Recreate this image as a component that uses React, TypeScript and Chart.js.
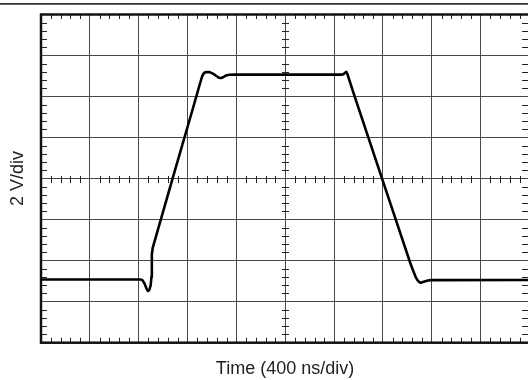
import React, { useEffect, useRef } from "react";
import { Chart, registerables } from "chart.js";

Chart.register(...registerables);

// Trace, in screen divisions (x: 0..10 divisions of 400 ns, y: -4..4 divisions of 2 V)
const timeDiv = [
  0, 2.049, 2.08, 2.12, 2.16, 2.19, 2.22, 2.245, 2.26, 2.266, 2.272, 2.287,
  2.693, 3.1, 3.258, 3.3, 3.34, 3.39, 3.45, 3.52, 3.59, 3.64, 3.68, 3.73, 3.79, 3.85, 3.975,
  6.148, 6.19, 6.225, 6.25, 6.272, 6.4, 6.982, 7.561, 7.62, 7.67, 7.71, 7.75, 7.79, 7.85,
  7.92, 7.98, 10,
];
const voltsDiv = [
  -2.46, -2.46, -2.48, -2.56, -2.68, -2.74, -2.71, -2.6, -2.4, -2.1, -1.85, -1.69,
  0, 1.672, 2.33, 2.5, 2.58, 2.6, 2.595, 2.56, 2.5, 2.46, 2.45, 2.47, 2.515, 2.53, 2.535,
  2.535, 2.545, 2.58, 2.6, 2.55, 2.079, 0, -2.064, -2.25, -2.4, -2.48, -2.53, -2.535, -2.51,
  -2.485, -2.475, -2.47,
];
const xDivisions = [0, 10];
const yDivisions = [-4, 4];
const minorPerDiv = 5;
const xTitle = "Time (400 ns/div)";
const yTitle = "2 V/div";

const scopePlugin = {
  id: "scope",
  beforeDatasetsDraw(chart: any) {
    const { ctx, chartArea: a, scales } = chart;
    const xs = scales.x;
    const ys = scales.y;
    const cx = xs.getPixelForValue((xDivisions[0] + xDivisions[1]) / 2);
    const cy = ys.getPixelForValue((yDivisions[0] + yDivisions[1]) / 2);
    ctx.save();
    ctx.strokeStyle = "#222";
    ctx.lineWidth = 1;
    ctx.beginPath();
    const nx = (xDivisions[1] - xDivisions[0]) * minorPerDiv;
    for (let i = 1; i < nx; i++) {
      if (i % minorPerDiv === 0) continue;
      const px = Math.round(xs.getPixelForValue(xDivisions[0] + i / minorPerDiv)) + 0.5;
      ctx.moveTo(px, a.top);
      ctx.lineTo(px, a.top + 4.5);
      ctx.moveTo(px, a.bottom);
      ctx.lineTo(px, a.bottom - 5);
      ctx.moveTo(px, Math.round(cy) - 3);
      ctx.lineTo(px, Math.round(cy) + 4);
    }
    const ny = (yDivisions[1] - yDivisions[0]) * minorPerDiv;
    for (let i = 1; i < ny; i++) {
      if (i % minorPerDiv === 0) continue;
      const py = Math.round(ys.getPixelForValue(yDivisions[0] + i / minorPerDiv)) + 0.5;
      ctx.moveTo(a.left, py);
      ctx.lineTo(a.left + 6, py);
      ctx.moveTo(a.right, py);
      ctx.lineTo(a.right - 7.5, py);
      ctx.moveTo(Math.round(cx) - 3, py);
      ctx.lineTo(Math.round(cx) + 4, py);
    }
    ctx.stroke();
    ctx.strokeStyle = "#111";
    ctx.lineWidth = 2.5;
    ctx.strokeRect(a.left, a.top, a.right - a.left, a.bottom - a.top);
    ctx.restore();
  },
  afterDraw(chart: any) {
    const { ctx } = chart;
    ctx.save();
    ctx.fillStyle = "#000";
    ctx.fillRect(0, 3.2, 528, 1.4);
    ctx.fillStyle = "#222";
    ctx.font = "18px 'Liberation Sans', Arial, sans-serif";
    ctx.textAlign = "center";
    ctx.textBaseline = "alphabetic";
    ctx.fillText(xTitle, 285, 374);
    ctx.translate(22.5, 178.5);
    ctx.rotate(-Math.PI / 2);
    ctx.fillText(yTitle, 0, 0);
    ctx.restore();
  },
};

export default function App() {
  const ref = useRef<HTMLCanvasElement | null>(null);
  useEffect(() => {
    if (!ref.current) return;
    const data = timeDiv.map((t, i) => ({ x: t, y: voltsDiv[i] }));
    const chart = new Chart(ref.current, {
      type: "line",
      data: {
        datasets: [
          {
            data,
            borderColor: "#000",
            borderWidth: 2.6,
            pointRadius: 0,
            tension: 0,
            borderJoinStyle: "round",
            borderCapStyle: "round",
            fill: false,
          },
        ],
      },
      options: {
        animation: false,
        responsive: false,
        devicePixelRatio: 1,
        layout: { padding: { left: 41, right: 15.5, top: 14.5, bottom: 37.3 } },
        plugins: { legend: { display: false }, tooltip: { enabled: false }, title: { display: false } },
        scales: {
          x: {
            type: "linear",
            min: xDivisions[0],
            max: xDivisions[1],
            ticks: { display: false, stepSize: 1 },
            grid: { color: "#484848", lineWidth: 1, drawTicks: false },
            border: { display: false },
            afterFit: (s: any) => {
              s.height = 0;
            },
          },
          y: {
            type: "linear",
            min: yDivisions[0],
            max: yDivisions[1],
            ticks: { display: false, stepSize: 1 },
            grid: { color: "#484848", lineWidth: 1, drawTicks: false },
            border: { display: false },
            afterFit: (s: any) => {
              s.width = 0;
            },
          },
        },
      },
      plugins: [scopePlugin],
    });
    return () => chart.destroy();
  }, []);
  return (
    <div style={{ position: "fixed", left: 0, top: 0, width: 528, height: 380, overflow: "hidden", background: "#fff" }}>
      <canvas ref={ref} width={545} height={380} style={{ display: "block" }} />
    </div>
  );
}
